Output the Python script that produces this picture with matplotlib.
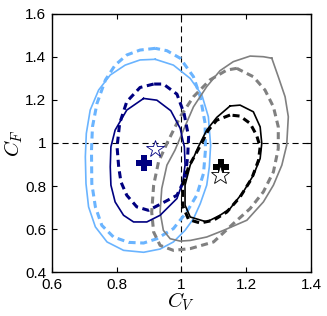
import matplotlib
matplotlib.use("Agg")
import matplotlib.pyplot as plt
import numpy as np

plt.rcParams['font.family'] = ['Liberation Sans', 'DejaVu Sans']
plt.rcParams['mathtext.fontset'] = 'cm'

# Contour outlines (C_V, C_F)
lightblue_solid_x = [0.919, 0.872, 0.826, 0.780, 0.744, 0.718, 0.706, 0.703, 0.705, 0.713, 0.734, 0.770, 0.821, 0.883, 0.934, 0.975, 1.011, 1.037, 1.058, 1.078, 1.086, 1.090, 1.083, 1.063, 1.027, 0.975, 0.919]
lightblue_solid_y = [1.389, 1.386, 1.362, 1.316, 1.246, 1.153, 1.044, 0.936, 0.811, 0.703, 0.610, 0.540, 0.501, 0.492, 0.507, 0.540, 0.594, 0.648, 0.718, 0.804, 0.889, 0.990, 1.122, 1.223, 1.300, 1.362, 1.389]

lightblue_dash_x = [0.919, 0.872, 0.831, 0.795, 0.765, 0.739, 0.725, 0.722, 0.723, 0.734, 0.754, 0.790, 0.837, 0.883, 0.924, 0.975, 1.016, 1.047, 1.068, 1.074, 1.073, 1.058, 1.037, 0.996, 0.955, 0.919]
lightblue_dash_y = [1.440, 1.432, 1.409, 1.362, 1.293, 1.184, 1.075, 0.967, 0.811, 0.703, 0.617, 0.563, 0.538, 0.535, 0.555, 0.602, 0.679, 0.757, 0.858, 0.967, 1.091, 1.215, 1.308, 1.394, 1.429, 1.440]

navy_solid_x = [0.883, 0.831, 0.795, 0.782, 0.780, 0.782, 0.795, 0.821, 0.852, 0.893, 0.934, 0.986, 1.004, 1.011, 1.009, 0.996, 0.967, 0.924, 0.883]
navy_solid_y = [1.207, 1.153, 1.060, 0.982, 0.889, 0.804, 0.726, 0.664, 0.633, 0.633, 0.664, 0.742, 0.819, 0.897, 0.982, 1.068, 1.150, 1.199, 1.207]

navy_dash_x = [0.914, 0.872, 0.831, 0.809, 0.801, 0.806, 0.813, 0.831, 0.862, 0.898, 0.934, 0.986, 1.011, 1.019, 1.022, 1.008, 0.986, 0.944, 0.914]
navy_dash_y = [1.274, 1.258, 1.192, 1.091, 0.982, 0.889, 0.819, 0.757, 0.703, 0.687, 0.715, 0.757, 0.835, 0.936, 1.029, 1.137, 1.227, 1.274, 1.274]

black_solid_x = [1.150, 1.109, 1.078, 1.052, 1.027, 1.011, 1.011, 1.027, 1.078, 1.119, 1.150, 1.191, 1.222, 1.243, 1.248, 1.243, 1.222, 1.181, 1.150]
black_solid_y = [1.172, 1.119, 1.060, 0.982, 0.897, 0.804, 0.711, 0.656, 0.633, 0.664, 0.695, 0.773, 0.850, 0.928, 0.998, 1.075, 1.145, 1.176, 1.172]

black_dash_x = [1.150, 1.109, 1.083, 1.056, 1.022, 1.004, 1.003, 1.022, 1.058, 1.099, 1.140, 1.181, 1.217, 1.238, 1.243, 1.232, 1.212, 1.181, 1.150]
black_dash_y = [1.130, 1.106, 1.060, 0.982, 0.889, 0.804, 0.711, 0.644, 0.628, 0.641, 0.679, 0.749, 0.835, 0.920, 0.982, 1.036, 1.091, 1.125, 1.130]

gray_solid_x = [1.279, 1.253, 1.212, 1.160, 1.119, 1.078, 1.037, 1.006, 0.980, 0.955, 0.939, 0.934, 0.944, 0.965, 0.996, 1.027, 1.078, 1.130, 1.202, 1.253, 1.284, 1.310, 1.325, 1.330, 1.320, 1.299, 1.279]
gray_solid_y = [1.394, 1.401, 1.404, 1.378, 1.336, 1.262, 1.168, 1.060, 0.967, 0.897, 0.788, 0.679, 0.594, 0.555, 0.544, 0.547, 0.563, 0.594, 0.641, 0.726, 0.804, 0.897, 0.990, 1.122, 1.215, 1.308, 1.394]

gray_dash_x = [1.171, 1.140, 1.088, 1.037, 0.996, 0.955, 0.929, 0.914, 0.908, 0.914, 0.934, 0.975, 1.027, 1.099, 1.160, 1.212, 1.253, 1.284, 1.299, 1.299, 1.284, 1.258, 1.222, 1.181, 1.171]
gray_dash_y = [1.347, 1.339, 1.293, 1.215, 1.122, 0.998, 0.912, 0.804, 0.679, 0.586, 0.524, 0.501, 0.509, 0.540, 0.625, 0.695, 0.773, 0.866, 0.974, 1.075, 1.168, 1.246, 1.308, 1.339, 1.347]

# Best-fit (+) and true (star) points
navy_plus = (0.885, 0.908)
black_plus = (1.121, 0.889)
navy_star = (0.919, 0.971)
black_star = (1.119, 0.850)

xticks = [0.6, 0.8, 1.0, 1.2, 1.4]
xticklabels = ['0.6', '0.8', '1', '1.2', '1.4']
yticks = [0.4, 0.6, 0.8, 1.0, 1.2, 1.4, 1.6]
yticklabels = ['0.4', '0.6', '0.8', '1', '1.2', '1.4', '1.6']

LIGHTBLUE = '#6ab4ff'
NAVY = '#000080'
GRAY = '#808080'

fig = plt.figure(figsize=(3.27, 3.16), dpi=100)
ax = fig.add_axes([0.159, 0.139, 0.792, 0.817])

ax.axvline(1.0, color='black', lw=0.8, ls=(0, (5.5, 3.5)), zorder=1)
ax.axhline(1.0, color='black', lw=0.8, ls=(0, (5.5, 3.5)), zorder=1)

dash = (0, (2.3, 1.5))
ax.plot(lightblue_solid_x, lightblue_solid_y, color=LIGHTBLUE, lw=1.2, zorder=2)
ax.plot(lightblue_dash_x, lightblue_dash_y, color=LIGHTBLUE, lw=2.2, ls=dash, zorder=2)
ax.plot(gray_solid_x, gray_solid_y, color=GRAY, lw=1.2, zorder=2)
ax.plot(gray_dash_x, gray_dash_y, color=GRAY, lw=2.2, ls=dash, zorder=2)
ax.plot(navy_solid_x, navy_solid_y, color=NAVY, lw=1.2, zorder=3)
ax.plot(navy_dash_x, navy_dash_y, color=NAVY, lw=2.2, ls=dash, zorder=3)
ax.plot(black_solid_x, black_solid_y, color='black', lw=1.2, zorder=3)
ax.plot(black_dash_x, black_dash_y, color='black', lw=2.2, ls=dash, zorder=3)

ax.plot([navy_plus[0]], [navy_plus[1]], marker='P', ms=11, color=NAVY, mew=0, ls='none', zorder=5)
ax.plot([black_plus[0]], [black_plus[1]], marker='P', ms=11, color='black', mew=0, ls='none', zorder=5)
ax.plot([navy_star[0]], [navy_star[1]], marker='*', ms=13, mfc='white', mec=NAVY, mew=0.6, ls='none', zorder=6)
ax.plot([black_star[0]], [black_star[1]], marker='*', ms=14, mfc='white', mec='black', mew=0.6, ls='none', zorder=6)

ax.set_xlim(0.6, 1.4)
ax.set_ylim(0.4, 1.6)
ax.set_xticks(xticks)
ax.set_xticklabels(xticklabels)
ax.set_yticks(yticks)
ax.set_yticklabels(yticklabels)
ax.tick_params(direction='in', length=3.5, width=0.8, top=True, right=True, labelsize=11)
ax.tick_params(axis='x', pad=4)
ax.tick_params(axis='y', pad=4)
for s in ax.spines.values():
    s.set_linewidth(1.0)

ax.set_xlabel(r'$C_V$', fontsize=15, labelpad=-1)
ax.set_ylabel(r'$C_F$', fontsize=15, labelpad=0)

fig.savefig('out.png', dpi=100)
